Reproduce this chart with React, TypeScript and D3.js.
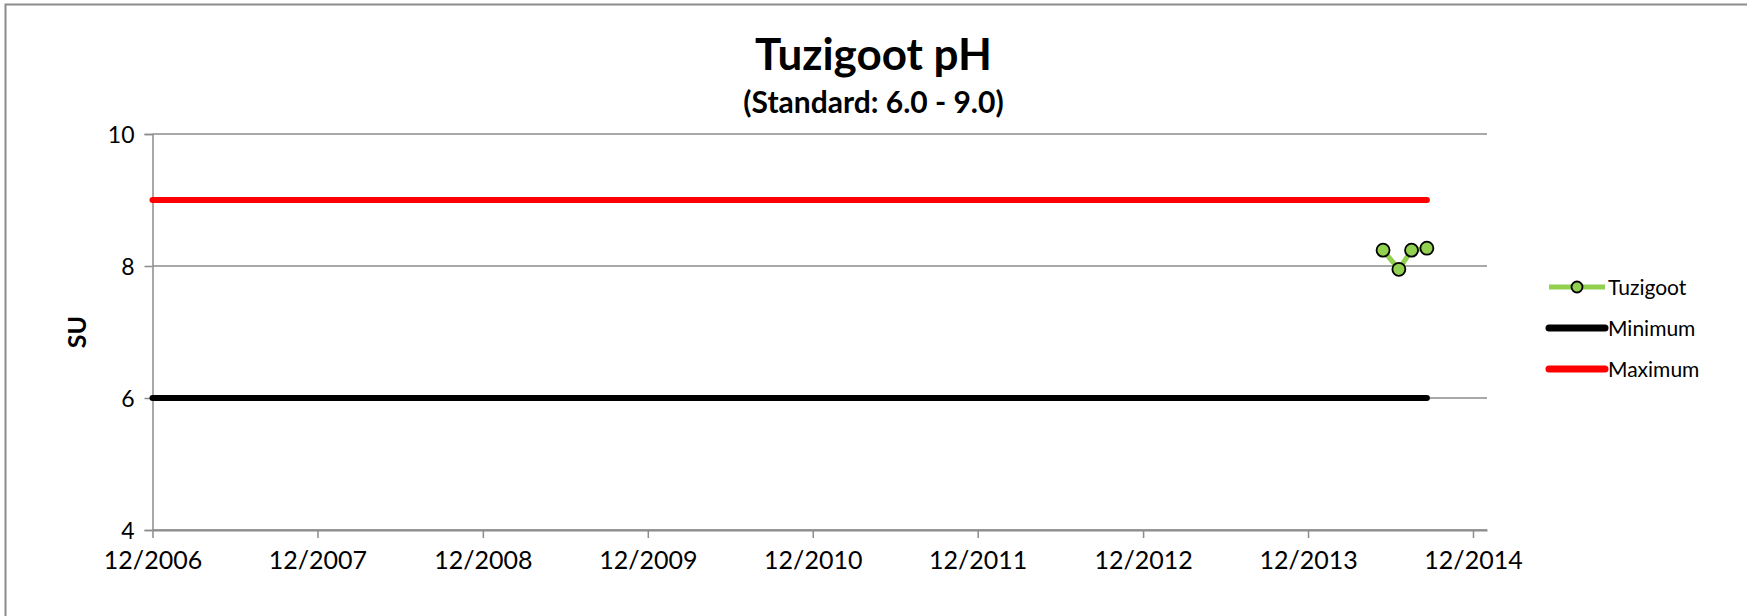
import React, { useEffect, useRef } from "react";
import * as d3 from "d3";

// Tuzigoot pH samples
const sampleDates = ["2014-05-16", "2014-06-20", "2014-07-18", "2014-08-21"];
const sampleValues = [8.24, 7.95, 8.24, 8.27];

// standard limits, drawn from the start of the axis to the last sample
const limitDates = ["2006-12-01", "2014-08-21"];
const minimumValues = [6, 6];
const maximumValues = [9, 9];

const yTicks = [4, 6, 8, 10];
const xTickDates = ["2006-12-01", "2007-12-01", "2008-12-01", "2009-12-01", "2010-12-01", "2011-12-01", "2012-12-01", "2013-12-01", "2014-12-01"];

const legendNames = ["Tuzigoot", "Minimum", "Maximum"];

const parse = d3.timeParse("%Y-%m-%d");
const FONT = "Lato, 'Open Sans', sans-serif";

function App() {
    const chart = useRef(null);

    useEffect(() => {
        const W = 1747;
        const H = 616;
        const svg = d3.select(chart.current)
            .attr("width", W)
            .attr("height", H);
        const g = svg.append("g");

        // outer frame
        g.append("rect")
            .attr("x", 5.5).attr("y", 4.5)
            .attr("width", W + 10).attr("height", H + 10)
            .attr("fill", "white")
            .attr("stroke", "#8c8c8c")
            .attr("stroke-width", 2);

        const x = d3.scaleTime()
            .domain([parse("2006-12-01"), parse("2015-01-01")])
            .range([152.5, 1487]);
        const y = d3.scaleLinear()
            .domain([4, 10])
            .range([530, 134]);

        // horizontal gridlines
        g.selectAll(".grid")
            .data(yTicks)
            .enter()
            .append("line")
                .attr("x1", x.range()[0])
                .attr("x2", x.range()[1])
                .attr("y1", d => y(d))
                .attr("y2", d => y(d))
                .attr("stroke", "#8c8c8c")
                .attr("stroke-width", 1.5);

        // y axis
        const yAxis = d3.axisLeft(y)
            .tickValues(yTicks)
            .tickSize(8)
            .tickPadding(10)
            .tickFormat(d3.format("d"));
        const ya = g.append("g")
            .attr("transform", `translate(${x.range()[0]},0)`)
            .call(yAxis);
        ya.select(".domain").attr("stroke", "#8c8c8c").attr("stroke-width", 1.5);
        ya.selectAll(".tick line").attr("stroke", "#8c8c8c").attr("stroke-width", 1.5);
        ya.selectAll(".tick text")
            .attr("font-family", FONT)
            .attr("font-size", 23)
            .attr("fill", "#000")
            .attr("dy", "0.36em");

        // x axis
        const xAxis = d3.axisBottom(x)
            .tickValues(xTickDates.map(d => parse(d)))
            .tickSize(8)
            .tickSizeOuter(0)
            .tickPadding(13)
            .tickFormat(d3.timeFormat("%m/%Y"));
        const xa = g.append("g")
            .attr("transform", `translate(0,${y(4)})`)
            .call(xAxis);
        xa.select(".domain").attr("stroke", "#8c8c8c").attr("stroke-width", 2);
        xa.selectAll(".tick line").attr("stroke", "#8c8c8c").attr("stroke-width", 1.5);
        xa.selectAll(".tick text")
            .attr("font-family", FONT)
            .attr("font-size", 25)
            .attr("fill", "#000");

        // limit lines
        const limitLine = d3.line()
            .x((d, i) => x(parse(limitDates[i])))
            .y(d => y(d));
        g.append("path")
            .attr("d", limitLine(minimumValues))
            .attr("fill", "none")
            .attr("stroke", "#000")
            .attr("stroke-width", 6)
            .attr("stroke-linecap", "round");
        g.append("path")
            .attr("d", limitLine(maximumValues))
            .attr("fill", "none")
            .attr("stroke", "#ff0000")
            .attr("stroke-width", 6)
            .attr("stroke-linecap", "round");

        // sample series
        const sampleLine = d3.line()
            .x((d, i) => x(parse(sampleDates[i])))
            .y(d => y(d));
        g.append("path")
            .attr("d", sampleLine(sampleValues))
            .attr("fill", "none")
            .attr("stroke", "#92d050")
            .attr("stroke-width", 5);
        g.selectAll(".pt")
            .data(sampleValues)
            .enter()
            .append("circle")
                .attr("cx", (d, i) => x(parse(sampleDates[i])))
                .attr("cy", d => y(d))
                .attr("r", 6.5)
                .attr("fill", "#92d050")
                .attr("stroke", "#000")
                .attr("stroke-width", 1.8);

        // titles
        g.append("text")
            .attr("x", W / 2).attr("y", 70)
            .attr("text-anchor", "middle")
            .attr("font-family", FONT)
            .attr("font-weight", "bold")
            .attr("font-size", 44)
            .text("Tuzigoot pH");
        g.append("text")
            .attr("x", W / 2).attr("y", 113)
            .attr("text-anchor", "middle")
            .attr("font-family", FONT)
            .attr("font-weight", "bold")
            .attr("font-size", 30)
            .text("(Standard: 6.0 - 9.0)");
        g.append("text")
            .attr("transform", `translate(86,${(y(4) + y(10)) / 2}) rotate(-90)`)
            .attr("text-anchor", "middle")
            .attr("font-family", FONT)
            .attr("font-weight", "bold")
            .attr("font-size", 25)
            .text("SU");

        // legend
        const legendColors = ["#92d050", "#000", "#ff0000"];
        const legend = g.selectAll(".legend")
            .data(legendNames)
            .enter()
            .append("g")
                .attr("transform", (d, i) => `translate(1549,${287 + i * 41})`);
        legend.append("line")
            .attr("x1", 0).attr("x2", 56)
            .attr("stroke", (d, i) => legendColors[i])
            .attr("stroke-width", (d, i) => i === 0 ? 5 : 7)
            .attr("stroke-linecap", (d, i) => i === 0 ? "butt" : "round");
        legend.filter((d, i) => i === 0)
            .append("circle")
                .attr("cx", 28)
                .attr("r", 5.5)
                .attr("fill", "#92d050")
                .attr("stroke", "#000")
                .attr("stroke-width", 1.8);
        legend.append("text")
            .attr("x", 59)
            .attr("dy", "0.36em")
            .attr("font-family", FONT)
            .attr("font-size", 21)
            .text(d => d);

        return () => {
            svg.selectAll("*").remove();
        };
    }, []);

    return (
        <svg ref={chart} style={{ position: "absolute", left: 0, top: 0 }}></svg>
    );
}

export default App;
